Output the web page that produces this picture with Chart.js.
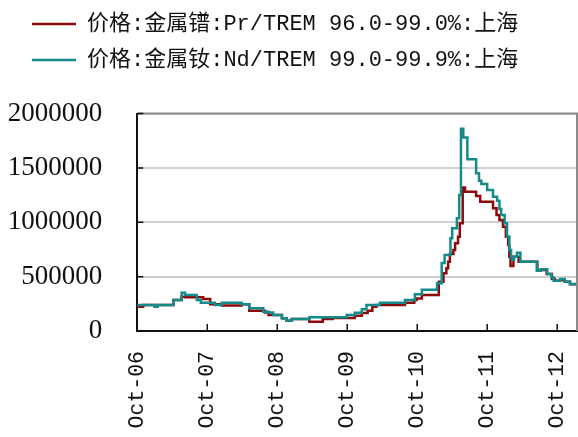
<!DOCTYPE html>
<html>
<head>
<meta charset="utf-8">
<script src="https://cdn.jsdelivr.net/npm/chart.js@4.4.0/dist/chart.umd.min.js"></script>
<style>
  body { margin: 0; background: #fff; overflow: hidden; }
  #wrap { position: absolute; left: 0; top: -1px; width: 578px; height: 438px; }
</style>
</head>
<body>
<div id="wrap"><canvas id="priceChart"></canvas></div>
<script>
// x values are months counted from Oct 2006
const tickLabels = ['Oct-06', 'Oct-07', 'Oct-08', 'Oct-09', 'Oct-10', 'Oct-11', 'Oct-12'];
const seriesNames = ['价格:金属镨:Pr/TREM 96.0-99.0%:上海', '价格:金属钕:Nd/TREM 99.0-99.9%:上海'];

const prMonths = [0, 1.0, 3.0, 3.5, 6.2, 7.6, 8.2, 11.3, 12.5, 14.5, 17.9, 19.2, 21.9, 22.5, 24.8, 25.6, 26.5,
  29.5, 31.8, 33.5, 37.3, 38.5, 39.5, 40.3, 41.0, 45.9, 47.5, 47.9, 48.8, 51.7, 52.5, 53.0, 53.3, 53.6,
  54.2, 54.5, 55.0, 55.3, 55.8, 56.2, 58.1, 58.8, 61.0, 61.6, 62.1, 62.7, 63.2, 63.6, 63.8, 64.0, 64.5,
  65.4, 68.6, 69.2, 70.2, 71.1, 71.6, 72.5, 73.3, 74.2, 75.0, 75.4];
const prPrices = [239000, 223000, 240000, 223000, 239000, 285000, 315000, 310000, 294000, 245000, 235000,
  245000, 187000, 170000, 147000, 117000, 95000, 110000, 86000, 110000, 120000, 140000, 165000, 187000,
  224000, 239000, 260000, 285000, 300000, 331000, 453000, 530000, 576000, 637000, 708000, 745000, 806000,
  867000, 990000, 1320000, 1281000, 1241000, 1189000, 1128000, 1067000, 1021000, 959000, 867000, 791000,
  683000, 598000, 683000, 637000, 555000, 560000, 524000, 478000, 463000, 470000, 453000, 430000, 430000];

const ndMonths = [0, 3.0, 3.5, 6.2, 7.6, 8.2, 10.2, 10.9, 13.3, 14.5, 17.9, 19.2, 21.6, 22.5, 23.3, 24.8,
  25.6, 26.5, 29.5, 35.9, 37.3, 38.5, 39.3, 41.6, 45.9, 47.6, 48.8, 51.4, 52.2, 52.7, 53.7, 54.0, 54.8,
  55.2, 55.5, 55.9, 56.6, 58.1, 58.6, 59.0, 60.0, 61.0, 61.7, 62.1, 62.4, 63.0, 63.4, 63.8, 64.1, 64.3,
  64.6, 65.1, 65.7, 68.5, 69.2, 70.3, 71.0, 71.4, 72.5, 73.3, 74.2, 75.0, 75.4];
const ndPrices = [223000, 240000, 223000, 239000, 285000, 352000, 331000, 285000, 260000, 239000, 260000,
  245000, 209000, 178000, 170000, 147000, 117000, 95000, 110000, 126000, 147000, 168000, 199000, 239000,
  260000, 285000, 337000, 380000, 438000, 625000, 700000, 852000, 944000, 1036000, 1251000, 1860000,
  1780000, 1579000, 1450000, 1382000, 1352000, 1297000, 1235000, 1198000, 1122000, 1067000, 990000,
  867000, 745000, 683000, 655000, 683000, 720000, 637000, 555000, 567000, 524000, 494000, 463000,
  478000, 453000, 432000, 432000];

const toPoints = (xs, ys) => xs.map((m, i) => ({x: m, y: ys[i]}));

const labelFont = '"Liberation Mono", "Noto Sans CJK SC", monospace';

// legend: fixed height so the plot starts at the right place, and nudged right
const legendPlace = {
  id: 'legendPlace',
  beforeLayout(chart) {
    const lg = chart.legend;
    if (!lg || lg._patched) return;
    const fit = lg.fit;
    lg.fit = function() {
      fit.call(this);
      this.height = 114.5;
    };
    lg._patched = true;
  },
  afterLayout(chart) {
    chart.legend.left = 18;
  }
};

// inner tick marks plus grey top/right frame
const frame = {
  id: 'frame',
  afterDatasetsDraw(chart) {
    const {ctx, chartArea: a, scales} = chart;
    ctx.save();
    ctx.strokeStyle = '#8a8a8a';
    ctx.lineWidth = 2;
    ctx.beginPath();
    ctx.moveTo(a.left, a.top);
    ctx.lineTo(a.right, a.top);
    ctx.lineTo(a.right, a.bottom);
    ctx.stroke();
    ctx.strokeStyle = '#111';
    ctx.lineWidth = 1.5;
    ctx.beginPath();
    scales.y.ticks.forEach(t => {
      const py = scales.y.getPixelForValue(t.value);
      ctx.moveTo(a.left, py);
      ctx.lineTo(a.left + 6, py);
    });
    scales.x.ticks.forEach(t => {
      const px = scales.x.getPixelForValue(t.value);
      ctx.moveTo(px, a.bottom);
      ctx.lineTo(px, a.bottom - 7);
    });
    ctx.stroke();
    ctx.restore();
  }
};

new Chart(document.getElementById('priceChart'), {
  type: 'line',
  data: {
    datasets: [{
      label: seriesNames[0],
      data: toPoints(prMonths, prPrices),
      borderColor: '#8b0a0a',
      backgroundColor: '#8b0a0a',
      borderWidth: 2.5,
      pointRadius: 0,
      stepped: 'after',
      order: 2
    }, {
      label: seriesNames[1],
      data: toPoints(ndMonths, ndPrices),
      borderColor: '#158a8a',
      backgroundColor: '#158a8a',
      borderWidth: 2.5,
      pointRadius: 0,
      stepped: 'after',
      order: 1
    }]
  },
  options: {
    responsive: true,
    maintainAspectRatio: false,
    animation: false,
    layout: { padding: { left: 0, right: 1, top: 0, bottom: 0 } },
    plugins: {
      tooltip: { enabled: false },
      legend: {
        position: 'top',
        align: 'start',
        labels: {
          font: { family: labelFont, size: 22 },
          color: '#111',
          padding: 14,
          usePointStyle: true,
          pointStyle: 'line',
          pointStyleWidth: 44,
          sort: (a, b) => a.datasetIndex - b.datasetIndex
        }
      }
    },
    scales: {
      x: {
        type: 'linear',
        min: 0,
        max: 75.4,
        grid: { display: false, drawTicks: false },
        border: { color: '#111', width: 2 },
        ticks: {
          stepSize: 12,
          includeBounds: false,
          autoSkip: false,
          minRotation: 90,
          maxRotation: 90,
          padding: 20,
          color: '#111',
          font: { family: labelFont, size: 21.5 },
          callback: (v) => tickLabels[Math.round(v / 12)] || ''
        },
        afterFit: (s) => { s.height = 106; s.paddingLeft = 0; s.paddingRight = 0; }
      },
      y: {
        min: 0,
        max: 2000000,
        grid: { color: '#d0d0d0', lineWidth: 2, drawTicks: false },
        border: { color: '#111', width: 2 },
        ticks: {
          stepSize: 500000,
          padding: 35,
          color: '#111',
          font: { family: '"Liberation Serif", serif', size: 27 },
          callback: (v) => String(v)
        },
        afterFit: (s) => { s.width = 137.3; }
      }
    }
  },
  plugins: [legendPlace, frame]
});
</script>
</body>
</html>
